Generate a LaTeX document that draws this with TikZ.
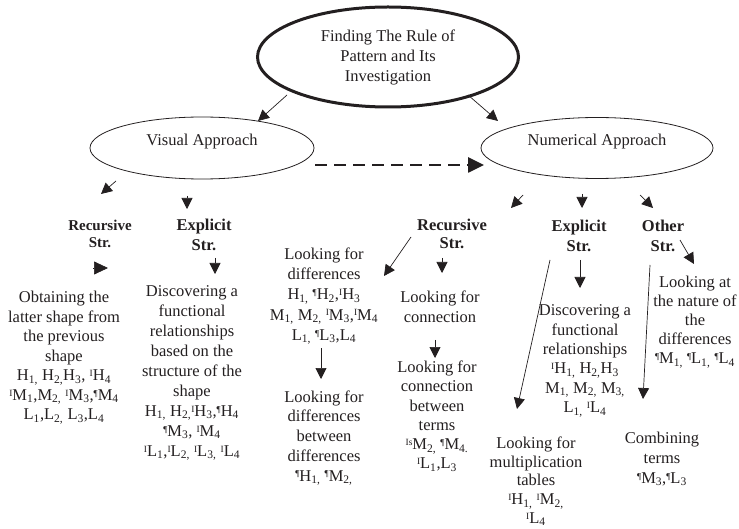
\documentclass[tikz,border=0pt]{standalone}
\usepackage{fontspec}
\setmainfont{Liberation Serif}
\usetikzlibrary{arrows.meta,shapes.geometric}
\newcommand\sI{\raisebox{4.2pt}{\fontsize{9.5}{9.5}\selectfont I}}
\newcommand\sIs{\raisebox{4.2pt}{\fontsize{9.5}{9.5}\selectfont Is}}
\newcommand\sq{\raisebox{4.2pt}{\fontsize{9}{9}\selectfont ¶}}
\newcommand\ssub[1]{\textsubscript{#1}}
\definecolor{ink}{RGB}{35,31,32}
\begin{document}
\begin{tikzpicture}[x=1pt,y=-1pt,
  txt/.style={align=center,inner sep=0pt,anchor=north,text=ink,font=\fontsize{16.5}{19.5}\selectfont},
  lbl/.style={align=center,inner sep=0pt,anchor=north,text=ink,font=\fontsize{16.5}{19}\selectfont\bfseries},
  oval/.style={ellipse,draw=ink,inner sep=0pt,text=ink,font=\fontsize{16.5}{20}\selectfont,align=center},
  arr/.style={draw=ink,line width=0.7pt,-{Triangle[length=11pt,width=11pt]}},
  ]
\useasboundingbox (0,0) rectangle (739,529);

% ellipses
\node[oval,line width=3pt,minimum width=261pt,minimum height=100pt] (top) at (388,57)
  {Finding The Rule of\\Pattern and Its\\Investigation};
\node[oval,line width=0.8pt,minimum width=224pt,minimum height=62pt] (vis) at (202,148) {};
\node[inner sep=0pt,text=ink,font=\fontsize{16.5}{20}\selectfont] (vistext) at (202,142) {Visual Approach};
\node[oval,line width=0.8pt,minimum width=232pt,minimum height=61pt] (num) at (597,148) {};
\node[inner sep=0pt,text=ink,font=\fontsize{16.5}{20}\selectfont] (numtext) at (597,142) {Numerical Approach};

% labels
\node[lbl,font=\fontsize{15}{17}\selectfont\bfseries] (vrec) at (100,218) {\strut Recursive\\Str.};
\node[lbl,font=\fontsize{16.5}{20}\selectfont\bfseries] (vexp) at (204,216.5) {\strut Explicit\\Str.};
\node[lbl,font=\fontsize{16.5}{18}\selectfont\bfseries] (nrec) at (452,218) {\strut Recursive\\Str.};
\node[lbl,font=\fontsize{16.5}{20}\selectfont\bfseries] (nexp) at (579,217) {\strut Explicit\\Str.};
\node[lbl,font=\fontsize{16.5}{20}\selectfont\bfseries] (noth) at (663,217) {\strut Other\\Str.};

% texts
\node[txt] (vobt) at (64,289) {\strut Obtaining the\\latter shape from\\the previous\\shape\\
  H\ssub{1,} H\ssub{2,}H\ssub{3}, \sI H\ssub{4}\\
  \sI M\ssub{1},M\ssub{2,} \sI M\ssub{3},\sq M\ssub{4}\\
  L\ssub{1},L\ssub{2,} L\ssub{3},L\ssub{4}};
\node[txt,font=\fontsize{16.5}{20}\selectfont] (vdis) at (192,282) {\strut Discovering a\\functional\\relationships\\based on the\\structure of the\\shape\\
  H\ssub{1,} H\ssub{2,}\sI H\ssub{3},\sq H\ssub{4}\\
  \sq M\ssub{3}, \sI M\ssub{4}\\
  \sI L\ssub{1},\sI L\ssub{2,} \sI L\ssub{3,} \sI L\ssub{4}};
\node[txt,font=\fontsize{16.5}{20.25}\selectfont] (ndif) at (324,245) {\strut Looking for\\differences\\
  H\ssub{1,} \sq H\ssub{2},\sI H\ssub{3}\\
  M\ssub{1,} M\ssub{2,} \sI M\ssub{3},\sI M\ssub{4}\\
  L\ssub{1,} \sq L\ssub{3},L\ssub{4}};
\node[txt,font=\fontsize{16.5}{19.75}\selectfont] (ndif2) at (324,388) {\strut Looking for\\differences\\between\\differences\\
  \sq H\ssub{1,} \sq M\ssub{2,}};
\node[txt] (ncon) at (440,289) {\strut Looking for\\connection};
\node[txt,font=\fontsize{16.5}{19.2}\selectfont] (ncon2) at (437,359) {\strut Looking for\\connection\\between\\terms\\
  \sIs M\ssub{2,} \sq M\ssub{4.}\\
  \sI L\ssub{1},L\ssub{3}};
\node[txt,font=\fontsize{16.5}{19.4}\selectfont] (ndis) at (585,302) {\strut Discovering a\\functional\\relationships\\
  \sI H\ssub{1,} H\ssub{2,}H\ssub{3}\\
  M\ssub{1,} M\ssub{2,} M\ssub{3,}\\
  L\ssub{1,} \sI L\ssub{4}};
\node[txt,font=\fontsize{16.5}{18.75}\selectfont] (nmul) at (536,435) {\strut Looking for\\multiplication\\tables\\
  \sI H\ssub{1,} \sI M\ssub{2,}\\
  \sI L\ssub{4}};
\node[txt,font=\fontsize{16.5}{19}\selectfont] (nnat) at (695,274) {\strut Looking at\\the nature of\\the\\differences\\
  \sq M\ssub{1,} \sq L\ssub{1,} \sq L\ssub{4}};
\node[txt,font=\fontsize{16.5}{20}\selectfont] (ncom) at (662,429) {\strut Combining\\terms\\
  \sq M\ssub{3},\sq L\ssub{3}};

% connector end points
\coordinate (t1a) at (287,95);  \coordinate (t1b) at (258,121);
\coordinate (t2a) at (468,95);  \coordinate (t2b) at (498,121);
\coordinate (da) at (315,165);  \coordinate (db) at (484,165);
\coordinate (v1a) at (116,181); \coordinate (v1b) at (101,194);
\coordinate (v2a) at (187,196); \coordinate (v2b) at (187,209);
\coordinate (v3a) at (93,268);  \coordinate (v3b) at (108,268);
\coordinate (v4a) at (215,258); \coordinate (v4b) at (215,274);
\coordinate (n1a) at (523,195); \coordinate (n1b) at (511,208);
\coordinate (n2a) at (582,194); \coordinate (n2b) at (582,208);
\coordinate (n3a) at (640,195); \coordinate (n3b) at (653,208);
\coordinate (r1a) at (411,237); \coordinate (r1b) at (384,276);
\coordinate (r2a) at (442,258); \coordinate (r2b) at (442,273);
\coordinate (c1a) at (435,340); \coordinate (c1b) at (435,358);
\coordinate (e1a) at (550,260); \coordinate (e1b) at (517,409);
\coordinate (e2a) at (580,260); \coordinate (e2b) at (580,288);
\coordinate (o1a) at (680,240); \coordinate (o1b) at (694,264);
\coordinate (o2a) at (650,265); \coordinate (o2b) at (643,399);
\coordinate (d1a) at (321,348); \coordinate (d1b) at (321,379);

\draw[arr] (t1a) -- (t1b);
\draw[arr] (t2a) -- (t2b);
\draw[draw=ink,line width=2.6pt,dash pattern=on 12pt off 7pt,-{Triangle[length=16pt,width=15pt]}] (da) -- (db);
\draw[arr] (v1a) -- (v1b);
\draw[arr] (v2a) -- (v2b);
\draw[arr,-{Triangle[length=14pt,width=13pt]}] (v3a) -- (v3b);
\draw[arr] (v4a) -- (v4b);
\draw[arr] (n1a) -- (n1b);
\draw[arr] (n2a) -- (n2b);
\draw[arr] (n3a) -- (n3b);
\draw[arr] (r1a) -- (r1b);
\draw[arr] (r2a) -- (r2b);
\draw[arr] (c1a) -- (c1b);
\draw[arr] (e1a) -- (e1b);
\draw[arr] (e2a) -- (e2b);
\draw[arr] (o1a) -- (o1b);
\draw[arr] (o2a) -- (o2b);
\draw[arr] (d1a) -- (d1b);
\end{tikzpicture}
\end{document}
